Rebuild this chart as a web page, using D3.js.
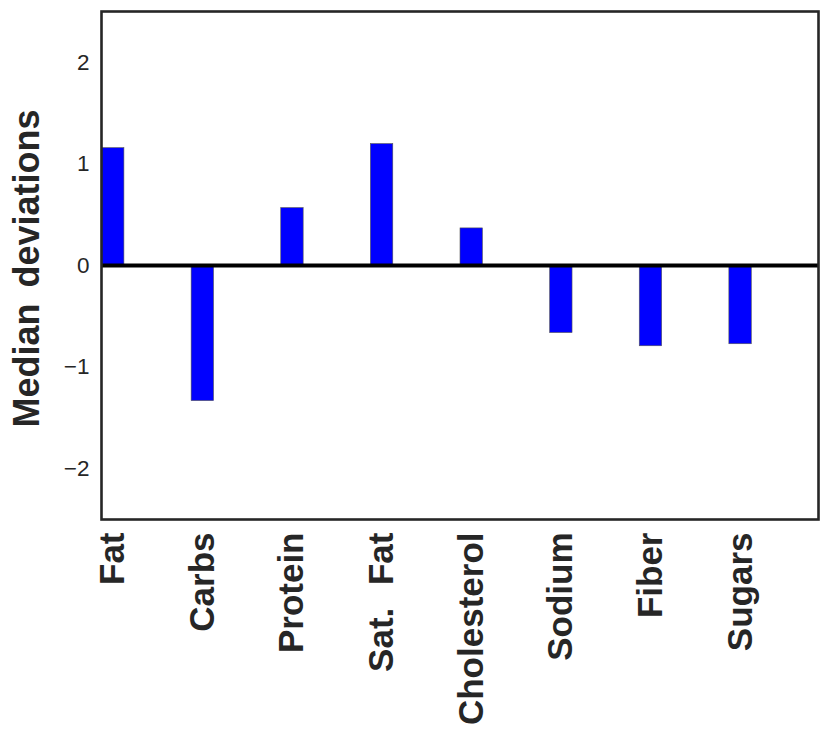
<!DOCTYPE html>
<html>
<head>
<meta charset="utf-8">
<script src="https://cdn.jsdelivr.net/npm/d3@7"></script>
<style>
  html, body { margin: 0; padding: 0; background: #fff; }
  svg { display: block; }
</style>
</head>
<body>
<svg id="chart" width="831" height="739"></svg>
<script>
const categories = ["Fat", "Carbs", "Protein", "Sat. Fat", "Cholesterol", "Sodium", "Fiber", "Sugars"];
const values = [1.16, -1.33, 0.57, 1.20, 0.37, -0.66, -0.79, -0.77];
const yTicks = [-2, -1, 0, 1, 2];
const yLabel = "Median deviations";

const margin = { left: 101.5, top: 11.5, right: 12.5, bottom: 219.5 };
const W = 831, H = 739;
const svg = d3.select("#chart");

const x = d3.scaleLinear().domain([-0.125, 7.875]).range([margin.left, W - margin.right]);
const y = d3.scaleLinear().domain([-2.5, 2.5]).range([H - margin.bottom, margin.top]);
const barW = 0.25;

// bars
svg.append("g").selectAll("rect").data(values).join("rect")
  .attr("x", (d, i) => x(i - barW / 2))
  .attr("width", (d, i) => x(i + barW / 2) - x(i - barW / 2))
  .attr("y", d => y(Math.max(0, d)))
  .attr("height", d => Math.abs(y(d) - y(0)))
  .attr("fill", "#0000ff")
  .attr("stroke", "#555")
  .attr("stroke-width", 0.6);

// zero line
svg.append("line")
  .attr("x1", x(-0.125)).attr("x2", x(7.875))
  .attr("y1", y(0)).attr("y2", y(0))
  .attr("stroke", "#000").attr("stroke-width", 4);

// frame
svg.append("rect")
  .attr("x", x(-0.125)).attr("y", y(2.5))
  .attr("width", x(7.875) - x(-0.125))
  .attr("height", y(-2.5) - y(2.5))
  .attr("fill", "none")
  .attr("stroke", "#262626")
  .attr("stroke-width", 2.6);

// y axis tick labels
const yAxis = d3.axisLeft(y).tickValues(yTicks).tickSize(0).tickPadding(12)
  .tickFormat(d => d < 0 ? "\u2212" + Math.abs(d) : String(d));
const ya = svg.append("g").attr("transform", `translate(${x(-0.125)},0)`).call(yAxis);
ya.select(".domain").remove();
ya.selectAll("text")
  .attr("font-family", "'Liberation Sans', Arial, sans-serif")
  .attr("font-size", 22.5)
  .attr("fill", "#262626")
  .attr("dy", "0.3em");

// x axis tick labels (rotated)
const xAxis = d3.axisBottom(x).tickValues(d3.range(categories.length)).tickSize(0)
  .tickFormat(i => categories[i]);
const xa = svg.append("g").attr("transform", `translate(0,${y(-2.5)})`).call(xAxis);
xa.select(".domain").remove();
xa.selectAll("text")
  .attr("font-family", "'Liberation Sans', Arial, sans-serif")
  .attr("font-weight", "bold")
  .attr("font-size", 35)
  .attr("word-spacing", 13)
  .attr("fill", "#262626")
  .attr("text-anchor", "end")
  .attr("transform", "translate(0,13) rotate(-90)")
  .attr("x", 0).attr("y", 0)
  .attr("dy", "11px")
  .attr("dx", 0);

// y label
svg.append("text")
  .attr("transform", `translate(39,${(y(2.5) + y(-2.5)) / 2 + 3}) rotate(-90)`)
  .attr("text-anchor", "middle")
  .attr("font-family", "'Liberation Sans', Arial, sans-serif")
  .attr("font-weight", "bold")
  .attr("font-size", 36)
  .attr("word-spacing", 6)
  .attr("fill", "#262626")
  .text(yLabel);
</script>
</body>
</html>
